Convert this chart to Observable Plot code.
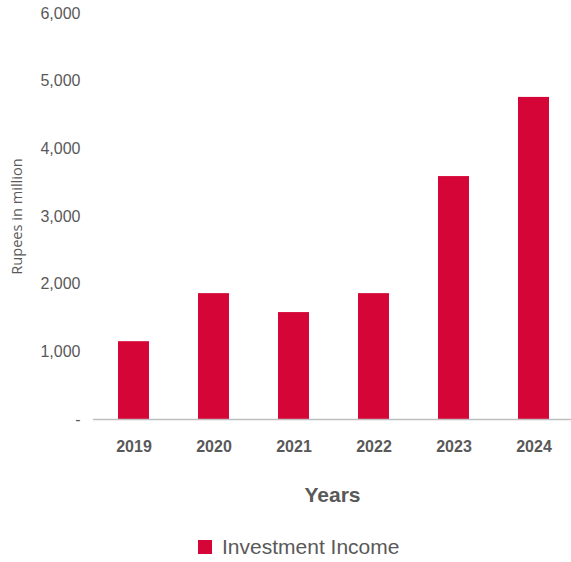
<!DOCTYPE html>
<html>
<head>
<meta charset="utf-8">
<script src="https://cdn.jsdelivr.net/npm/d3@7"></script>
<script src="https://cdn.jsdelivr.net/npm/@observablehq/plot@0.6"></script>
<style>
  body { margin: 0; background: #fff; font-family: "Liberation Sans", Arial, sans-serif; }
  #legend { display: flex; align-items: center; height: 54px; padding-left: 198px; gap: 10px; color: #595959; font-size: 21px; }
  #legend .sw { width: 14px; height: 14px; background: #D50537; }
</style>
</head>
<body>
<div id="chart"></div>
<div id="legend"><span class="sw"></span><span>Investment Income</span></div>
<script>
const years = ["2019", "2020", "2021", "2022", "2023", "2024"];
const income = [1150, 1860, 1580, 1860, 3590, 4760];
const yTicks = [0, 1000, 2000, 3000, 4000, 5000, 6000];
const seriesName = "Investment Income";

const data = years.map((y, i) => ({year: y, value: income[i]}));

const chart = Plot.plot({
  width: 571,
  height: 520,
  marginTop: 13,
  marginBottom: 101,
  marginLeft: 93,
  marginRight: 0,
  style: {fontFamily: "'Liberation Sans', Arial, sans-serif", background: "#fff"},
  x: {domain: years, range: [92, 575], paddingInner: 0.615, paddingOuter: 0.3075, label: null},
  y: {domain: [0, 6000], label: null},
  marks: [
    Plot.barY(data, {x: "year", y: "value", fill: "#D50537"}),
    Plot.ruleY([0], {stroke: "#bfbfbf", strokeWidth: 1.5}),
    Plot.axisY({ticks: yTicks, tickSize: 0, tickPadding: 13, fontSize: 16, color: "#595959", label: null,
      tickFormat: d => d === 0 ? "-" : d3.format(",")(d)}),
    Plot.axisX({tickSize: 0, tickPadding: 21, fontSize: 16, fontWeight: "bold", color: "#595959", label: null}),
    Plot.text(["Years"], {frameAnchor: "bottom", dy: 82, text: d => d, fontSize: 21, fontWeight: "bold", fill: "#595959"}),
    Plot.text(["Rupees in million"], {frameAnchor: "left", dx: -76, rotate: -90, textAnchor: "middle", text: d => d,
      fontSize: 14.6, fill: "#595959", fontFamily: "'Open Sans', sans-serif"})
  ]
});
document.getElementById("chart").appendChild(chart);
</script>
</body>
</html>
